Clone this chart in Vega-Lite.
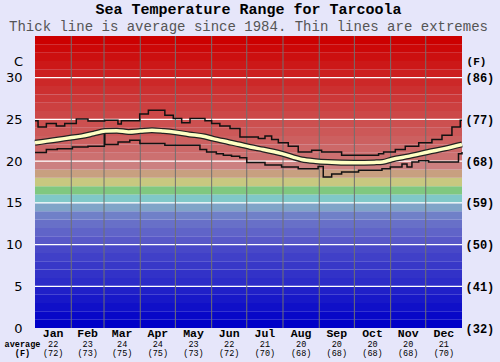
{
  "$schema": "https://vega.github.io/schema/vega-lite/v6.json",
  "width": 427,
  "height": 292,
  "autosize": {"type": "none"},
  "padding": {"left": 35, "top": 36, "right": 38, "bottom": 34},
  "background": "#e6e6fa",
  "title": {
    "text": "Sea Temperature Range for Tarcoola",
    "subtitle": "Thick line is average since 1984. Thin lines are extremes",
    "frame": "group",
    "anchor": "middle",
    "font": "Liberation Mono",
    "fontSize": 15,
    "fontWeight": "bold",
    "color": "#000000",
    "subtitleFont": "Liberation Mono",
    "subtitleFontSize": 14,
    "subtitleColor": "#555555",
    "subtitlePadding": 3,
    "offset": 2
  },
  "config": {"view": {"stroke": null}},
  "datasets": {
    "bands": [
      {"lo": 0, "hi": 1, "c": "#0000c8"}, {"lo": 1, "hi": 2, "c": "#0808c8"}, {"lo": 2, "hi": 3, "c": "#1010c8"},
      {"lo": 3, "hi": 4, "c": "#1818c8"}, {"lo": 4, "hi": 5, "c": "#2020c8"}, {"lo": 5, "hi": 6, "c": "#2c2cc8"},
      {"lo": 6, "hi": 7, "c": "#3232c8"}, {"lo": 7, "hi": 8, "c": "#3838c8"}, {"lo": 8, "hi": 9, "c": "#4040c8"},
      {"lo": 9, "hi": 10, "c": "#4848c8"}, {"lo": 10, "hi": 11, "c": "#5858c8"}, {"lo": 11, "hi": 12, "c": "#6064c8"},
      {"lo": 12, "hi": 13, "c": "#6870c8"}, {"lo": 13, "hi": 14, "c": "#7080c8"}, {"lo": 14, "hi": 15, "c": "#80a4c8"},
      {"lo": 15, "hi": 16, "c": "#80c8c8"}, {"lo": 16, "hi": 17, "c": "#80c880"}, {"lo": 17, "hi": 18, "c": "#c8c880"},
      {"lo": 18, "hi": 19, "c": "#c8a080"}, {"lo": 19, "hi": 20, "c": "#cc8080"}, {"lo": 20, "hi": 21, "c": "#cc7070"},
      {"lo": 21, "hi": 22, "c": "#cc6868"}, {"lo": 22, "hi": 23, "c": "#cc6060"}, {"lo": 23, "hi": 24, "c": "#cc5858"},
      {"lo": 24, "hi": 25, "c": "#cc5050"}, {"lo": 25, "hi": 26, "c": "#cc4848"}, {"lo": 26, "hi": 27, "c": "#cc4040"},
      {"lo": 27, "hi": 28, "c": "#cc3838"}, {"lo": 28, "hi": 29, "c": "#cc3030"}, {"lo": 29, "hi": 30, "c": "#cc2828"},
      {"lo": 30, "hi": 31, "c": "#cc2020"}, {"lo": 31, "hi": 32, "c": "#cc1818"}, {"lo": 32, "hi": 33, "c": "#cc1010"},
      {"lo": 33, "hi": 34, "c": "#cc0808"}, {"lo": 34, "hi": 35, "c": "#cc0000"}
    ],
    "hgrid": [{"v": 5}, {"v": 10}, {"v": 15}, {"v": 20}, {"v": 25}, {"v": 30}],
    "vgrid": [{"d": 31}, {"d": 59}, {"d": 90}, {"d": 120}, {"d": 151}, {"d": 181}, {"d": 212}, {"d": 243}, {"d": 273}, {"d": 304}, {"d": 334}],
    "series": [
      {"s": "max", "d": 0, "t": 24.85}, {"s": "max", "d": 2.6, "t": 24.1}, {"s": "max", "d": 9.7, "t": 24.5},
      {"s": "max", "d": 18.2, "t": 24.2}, {"s": "max", "d": 25.4, "t": 24.5}, {"s": "max", "d": 35.3, "t": 25.05},
      {"s": "max", "d": 45.3, "t": 24.8}, {"s": "max", "d": 59.6, "t": 24.9}, {"s": "max", "d": 70.9, "t": 24.45},
      {"s": "max", "d": 73.8, "t": 24.85}, {"s": "max", "d": 89.5, "t": 25.65}, {"s": "max", "d": 96.9, "t": 26.1},
      {"s": "max", "d": 111, "t": 25.5}, {"s": "max", "d": 118.2, "t": 25.1}, {"s": "max", "d": 125.4, "t": 24.6},
      {"s": "max", "d": 132.5, "t": 25.1}, {"s": "max", "d": 145.3, "t": 24.85}, {"s": "max", "d": 151, "t": 24.5},
      {"s": "max", "d": 158, "t": 24.2}, {"s": "max", "d": 166.7, "t": 23.9}, {"s": "max", "d": 175.2, "t": 22.9},
      {"s": "max", "d": 190.9, "t": 22.7}, {"s": "max", "d": 196.6, "t": 23.0}, {"s": "max", "d": 202.3, "t": 22.6},
      {"s": "max", "d": 208, "t": 22.2}, {"s": "max", "d": 216.5, "t": 21.8}, {"s": "max", "d": 225, "t": 21.1},
      {"s": "max", "d": 236.5, "t": 21.3}, {"s": "max", "d": 245, "t": 21.1}, {"s": "max", "d": 262.1, "t": 20.7},
      {"s": "max", "d": 293.7, "t": 20.9}, {"s": "max", "d": 298, "t": 21.1}, {"s": "max", "d": 308, "t": 21.4},
      {"s": "max", "d": 316.5, "t": 21.8}, {"s": "max", "d": 328, "t": 22.2}, {"s": "max", "d": 339.3, "t": 22.6},
      {"s": "max", "d": 347.9, "t": 23.1}, {"s": "max", "d": 356.4, "t": 24.1}, {"s": "max", "d": 363.5, "t": 24.9},
      {"s": "max", "d": 365, "t": 24.9},
      {"s": "min", "d": 0, "t": 21.05}, {"s": "min", "d": 9.7, "t": 21.4}, {"s": "min", "d": 19, "t": 21.5},
      {"s": "min", "d": 32, "t": 21.7}, {"s": "min", "d": 45.3, "t": 21.8}, {"s": "min", "d": 59.3, "t": 23.7},
      {"s": "min", "d": 59.7, "t": 22.0}, {"s": "min", "d": 71, "t": 22.3}, {"s": "min", "d": 81, "t": 22.5},
      {"s": "min", "d": 89.7, "t": 22.1}, {"s": "min", "d": 111, "t": 21.9}, {"s": "min", "d": 141, "t": 21.4},
      {"s": "min", "d": 146.7, "t": 21.1}, {"s": "min", "d": 155, "t": 20.9}, {"s": "min", "d": 161, "t": 20.7},
      {"s": "min", "d": 168, "t": 20.6}, {"s": "min", "d": 175, "t": 20.4}, {"s": "min", "d": 181, "t": 19.85},
      {"s": "min", "d": 196.6, "t": 19.55}, {"s": "min", "d": 210.8, "t": 19.3}, {"s": "min", "d": 225, "t": 19.1},
      {"s": "min", "d": 242, "t": 19.35}, {"s": "min", "d": 246.4, "t": 18.1}, {"s": "min", "d": 253.6, "t": 18.45},
      {"s": "min", "d": 262.1, "t": 18.7}, {"s": "min", "d": 276.6, "t": 18.9}, {"s": "min", "d": 296.6, "t": 19.1},
      {"s": "min", "d": 303.7, "t": 19.3}, {"s": "min", "d": 313.7, "t": 19.65}, {"s": "min", "d": 318, "t": 19.3},
      {"s": "min", "d": 322.2, "t": 19.9}, {"s": "min", "d": 328, "t": 20.05}, {"s": "min", "d": 336.5, "t": 19.9},
      {"s": "min", "d": 362, "t": 20.9}, {"s": "min", "d": 365, "t": 21.1},
      {"s": "avg", "d": 0, "t": 22.2}, {"s": "avg", "d": 10, "t": 22.4}, {"s": "avg", "d": 20, "t": 22.6},
      {"s": "avg", "d": 30, "t": 22.8}, {"s": "avg", "d": 40, "t": 23.0}, {"s": "avg", "d": 50, "t": 23.3},
      {"s": "avg", "d": 60, "t": 23.6}, {"s": "avg", "d": 70, "t": 23.65}, {"s": "avg", "d": 80, "t": 23.5},
      {"s": "avg", "d": 90, "t": 23.6}, {"s": "avg", "d": 100, "t": 23.7}, {"s": "avg", "d": 110, "t": 23.6},
      {"s": "avg", "d": 120, "t": 23.45}, {"s": "avg", "d": 132, "t": 23.2}, {"s": "avg", "d": 145, "t": 22.95},
      {"s": "avg", "d": 152, "t": 22.7}, {"s": "avg", "d": 165, "t": 22.3}, {"s": "avg", "d": 175, "t": 22.0},
      {"s": "avg", "d": 184, "t": 21.7}, {"s": "avg", "d": 195, "t": 21.4}, {"s": "avg", "d": 211, "t": 20.9},
      {"s": "avg", "d": 228, "t": 20.2}, {"s": "avg", "d": 240, "t": 20.0}, {"s": "avg", "d": 250, "t": 19.9},
      {"s": "avg", "d": 273, "t": 19.8}, {"s": "avg", "d": 290, "t": 19.85}, {"s": "avg", "d": 297, "t": 19.9},
      {"s": "avg", "d": 305, "t": 20.2}, {"s": "avg", "d": 320, "t": 20.6}, {"s": "avg", "d": 336, "t": 21.1},
      {"s": "avg", "d": 350, "t": 21.5}, {"s": "avg", "d": 365, "t": 22.0}
    ],
    "months": [
      {"m": "Jan", "mid": 15.5, "c": "22", "f": "(72)"}, {"m": "Feb", "mid": 45, "c": "23", "f": "(73)"},
      {"m": "Mar", "mid": 74.5, "c": "24", "f": "(75)"}, {"m": "Apr", "mid": 105, "c": "24", "f": "(75)"},
      {"m": "May", "mid": 135.5, "c": "23", "f": "(73)"}, {"m": "Jun", "mid": 166, "c": "22", "f": "(72)"},
      {"m": "Jul", "mid": 196.5, "c": "21", "f": "(70)"}, {"m": "Aug", "mid": 227.5, "c": "20", "f": "(68)"},
      {"m": "Sep", "mid": 258, "c": "20", "f": "(68)"}, {"m": "Oct", "mid": 288.5, "c": "20", "f": "(68)"},
      {"m": "Nov", "mid": 319, "c": "20", "f": "(68)"}, {"m": "Dec", "mid": 349.5, "c": "21", "f": "(70)"}
    ]
  },
  "layer": [
    {
      "data": {"name": "bands"},
      "mark": {"type": "rect"},
      "encoding": {
        "x": {"datum": 0, "type": "quantitative", "scale": {"domain": [0, 365], "nice": false, "zero": false}, "axis": null},
        "x2": {"datum": 365},
        "y": {"field": "lo", "type": "quantitative", "scale": {"domain": [0, 35], "nice": false, "zero": true},
          "axis": {"orient": "left", "values": [0, 5, 10, 15, 20, 25, 30], "grid": false, "ticks": false, "tickSize": 0, "domain": false,
            "labelFont": "DejaVu Sans", "labelFontSize": 13, "labelColor": "#000000", "labelPadding": 13,
            "title": "C", "titleAngle": 0, "titleFont": "DejaVu Sans", "titleFontSize": 13, "titleFontWeight": "normal",
            "titleAlign": "center", "titleBaseline": "middle", "titleX": -17, "titleY": 25, "titleColor": "#000000"}},
        "y2": {"field": "hi"},
        "color": {"field": "c", "type": "nominal", "scale": null}
      }
    },
    {
      "data": {"name": "hgrid"},
      "mark": {"type": "rule", "color": "#ffffff", "strokeWidth": 1.3},
      "encoding": {
        "y": {"field": "v", "type": "quantitative",
          "axis": {"orient": "right", "values": [0, 5, 10, 15, 20, 25, 30], "grid": false, "ticks": false, "tickSize": 0, "domain": false,
            "labelExpr": "'(' + format(datum.value * 9 / 5 + 32, 'd') + ')'",
            "labelFont": "Liberation Mono", "labelFontSize": 12, "labelFontWeight": "bold", "labelColor": "#000000", "labelPadding": 3,
            "title": "(F)", "titleAngle": 0, "titleFont": "Liberation Mono", "titleFontSize": 11, "titleFontWeight": "bold",
            "titleAlign": "center", "titleBaseline": "middle", "titleX": 14, "titleY": 25, "titleColor": "#000000"}}
      }
    },
    {
      "data": {"name": "vgrid"},
      "mark": {"type": "rule", "color": "#707070", "strokeWidth": 1},
      "encoding": {
        "x": {"field": "d", "type": "quantitative", "axis": null}
      }
    },
    {
      "data": {"name": "series"},
      "transform": [{"filter": "datum.s === 'max'"}],
      "mark": {"type": "line", "interpolate": "step-after", "color": "#111111", "strokeWidth": 1.5},
      "encoding": {
        "x": {"field": "d", "type": "quantitative", "axis": null},
        "y": {"field": "t", "type": "quantitative", "axis": null}
      }
    },
    {
      "data": {"name": "series"},
      "transform": [{"filter": "datum.s === 'min'"}],
      "mark": {"type": "line", "interpolate": "step-after", "color": "#111111", "strokeWidth": 1.5},
      "encoding": {
        "x": {"field": "d", "type": "quantitative", "axis": null},
        "y": {"field": "t", "type": "quantitative", "axis": null}
      }
    },
    {
      "data": {"name": "series"},
      "transform": [{"filter": "datum.s === 'avg'"}],
      "mark": {"type": "line", "interpolate": "monotone", "color": "#222222", "strokeWidth": 6},
      "encoding": {
        "x": {"field": "d", "type": "quantitative", "axis": null},
        "y": {"field": "t", "type": "quantitative", "axis": null}
      }
    },
    {
      "data": {"name": "series"},
      "transform": [{"filter": "datum.s === 'avg'"}],
      "mark": {"type": "line", "interpolate": "monotone", "color": "#ffffc4", "strokeWidth": 3.5},
      "encoding": {
        "x": {"field": "d", "type": "quantitative", "axis": null},
        "y": {"field": "t", "type": "quantitative", "axis": null}
      }
    },
    {
      "data": {"name": "months"},
      "mark": {"type": "text", "font": "Liberation Mono", "fontSize": 11.5, "fontWeight": "bold", "color": "#000000", "baseline": "middle"},
      "encoding": {
        "x": {"field": "mid", "type": "quantitative", "axis": null},
        "y": {"datum": -0.7, "type": "quantitative", "axis": null},
        "text": {"field": "m"}
      }
    },
    {
      "data": {"name": "months"},
      "mark": {"type": "text", "font": "Liberation Mono", "fontSize": 8.5, "color": "#000000", "baseline": "middle"},
      "encoding": {
        "x": {"field": "mid", "type": "quantitative", "axis": null},
        "y": {"datum": -1.92, "type": "quantitative", "axis": null},
        "text": {"field": "c"}
      }
    },
    {
      "data": {"name": "months"},
      "mark": {"type": "text", "font": "Liberation Mono", "fontSize": 8.5, "color": "#000000", "baseline": "middle"},
      "encoding": {
        "x": {"field": "mid", "type": "quantitative", "axis": null},
        "y": {"datum": -3.0, "type": "quantitative", "axis": null},
        "text": {"field": "f"}
      }
    },
    {
      "data": {"values": [{"lab": "average", "row": -1.92}, {"lab": "(F)", "row": -3.0}]},
      "mark": {"type": "text", "font": "Liberation Mono", "fontSize": 8.5, "fontWeight": "bold", "color": "#000000", "baseline": "middle"},
      "encoding": {
        "x": {"datum": -10.7, "type": "quantitative", "axis": null},
        "y": {"field": "row", "type": "quantitative", "axis": null},
        "text": {"field": "lab"}
      }
    }
  ],
  "resolve": {"axis": {"y": "independent"}}
}
